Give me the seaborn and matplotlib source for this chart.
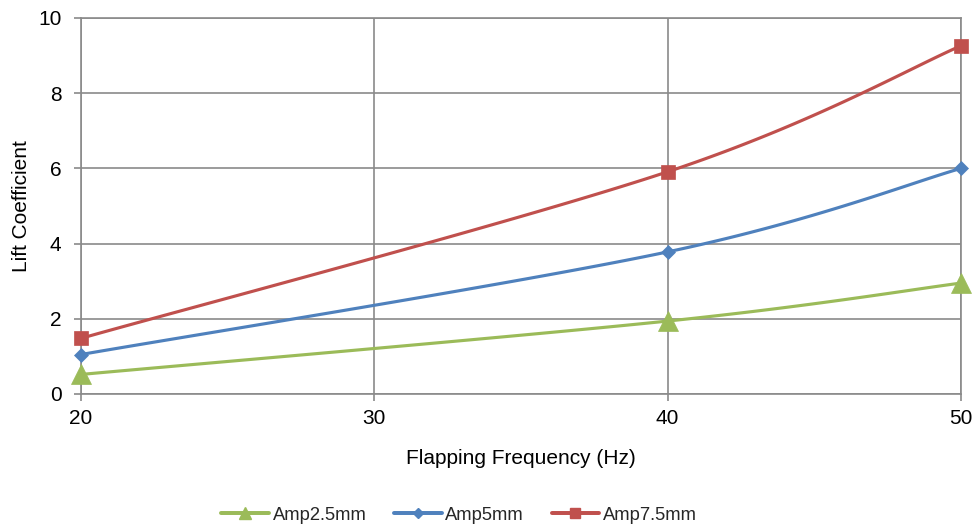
import numpy as np
import pandas as pd
import matplotlib
matplotlib.use("Agg")
import matplotlib.pyplot as plt
from matplotlib.lines import Line2D
import seaborn as sns

# Measured lift coefficients
frequency_hz = [20, 40, 50]
amp_2_5mm = [0.52, 1.94, 2.95]
amp_5mm = [1.05, 3.78, 6.00]
amp_7_5mm = [1.48, 5.91, 9.26]

series_names = ["Amp2.5mm", "Amp5mm", "Amp7.5mm"]
series_values = [amp_2_5mm, amp_5mm, amp_7_5mm]
series_colors = ["#9BBB59", "#4F81BD", "#C0504D"]
series_markers = ["^", "D", "s"]
marker_sizes = [14.5, 7, 10.5]
legend_marker_sizes = [8, 5, 7]


def smooth_curve(xs, ys, n=60):
    """Catmull-Rom style Bezier smoothing through the measured points."""
    pts = np.column_stack([xs, ys]).astype(float)
    out = []
    for i in range(len(pts) - 1):
        p0 = pts[max(i - 1, 0)]
        p1 = pts[i]
        p2 = pts[i + 1]
        p3 = pts[min(i + 2, len(pts) - 1)]
        c1 = p1 + (p2 - p0) / 6.0
        c2 = p2 - (p3 - p1) / 6.0
        t = np.linspace(0, 1, n)[:, None]
        seg = ((1 - t) ** 3) * p1 + 3 * ((1 - t) ** 2) * t * c1 \
            + 3 * (1 - t) * t ** 2 * c2 + t ** 3 * p2
        out.append(seg if i == 0 else seg[1:])
    seg = np.vstack(out)
    return seg[:, 0], seg[:, 1]


sns.set_theme(style="white")
plt.rcParams["font.family"] = ["Liberation Sans", "DejaVu Sans"]

fig = plt.figure(figsize=(9.79, 5.29), dpi=100)
ax = fig.add_axes([0.0827, 0.2552, 0.8989, 0.7108])

grid_color = "#8A8A8A"
line_width = 2.25

handles = []
for name, vals, color, marker, ms, lms in zip(series_names, series_values,
                                              series_colors, series_markers,
                                              marker_sizes, legend_marker_sizes):
    sx, sy = smooth_curve(frequency_hz, vals)
    curve = pd.DataFrame({"x": sx, "y": sy})
    sns.lineplot(data=curve, x="x", y="y", ax=ax, color=color, linewidth=line_width,
                 sort=False, estimator=None, zorder=3)
    pts = pd.DataFrame({"x": frequency_hz, "y": vals})
    ax.plot(pts["x"], pts["y"], linestyle="none", marker=marker, markersize=ms,
            color=color, markeredgecolor=color, markeredgewidth=0.5,
            zorder=4, clip_on=False)
    handles.append(Line2D([0], [0], color=color, linewidth=line_width + 0.6,
                          marker=marker, markersize=lms, markeredgecolor=color,
                          label=name))

ax.set_xlim(20, 50)
ax.set_ylim(0, 10)
ax.set_xticks([20, 30, 40, 50])
ax.set_yticks([0, 2, 4, 6, 8, 10])
ax.grid(True, color=grid_color, linewidth=1.2)
ax.set_axisbelow(True)
for side in ["left", "right", "top", "bottom"]:
    ax.spines[side].set_color(grid_color)
    ax.spines[side].set_linewidth(1.2)
ax.tick_params(axis="both", which="both", length=5, width=1.2, color=grid_color,
               labelsize=15, labelcolor="black", direction="out",
               bottom=True, left=True)
ax.tick_params(axis="y", pad=9)
ax.tick_params(axis="x", pad=6)

ax.set_xlabel("Flapping Frequency (Hz)", fontsize=15, color="black", labelpad=15)
ax.set_ylabel("Lift Coefficient", fontsize=15, color="black", labelpad=5)

fig.legend(handles=handles, loc="lower center", bbox_to_anchor=(0.469, -0.021),
           ncol=3, frameon=False, fontsize=13.2, handlelength=2.6,
           columnspacing=1.5, handletextpad=0.2)

fig.savefig("out.png", dpi=100)
